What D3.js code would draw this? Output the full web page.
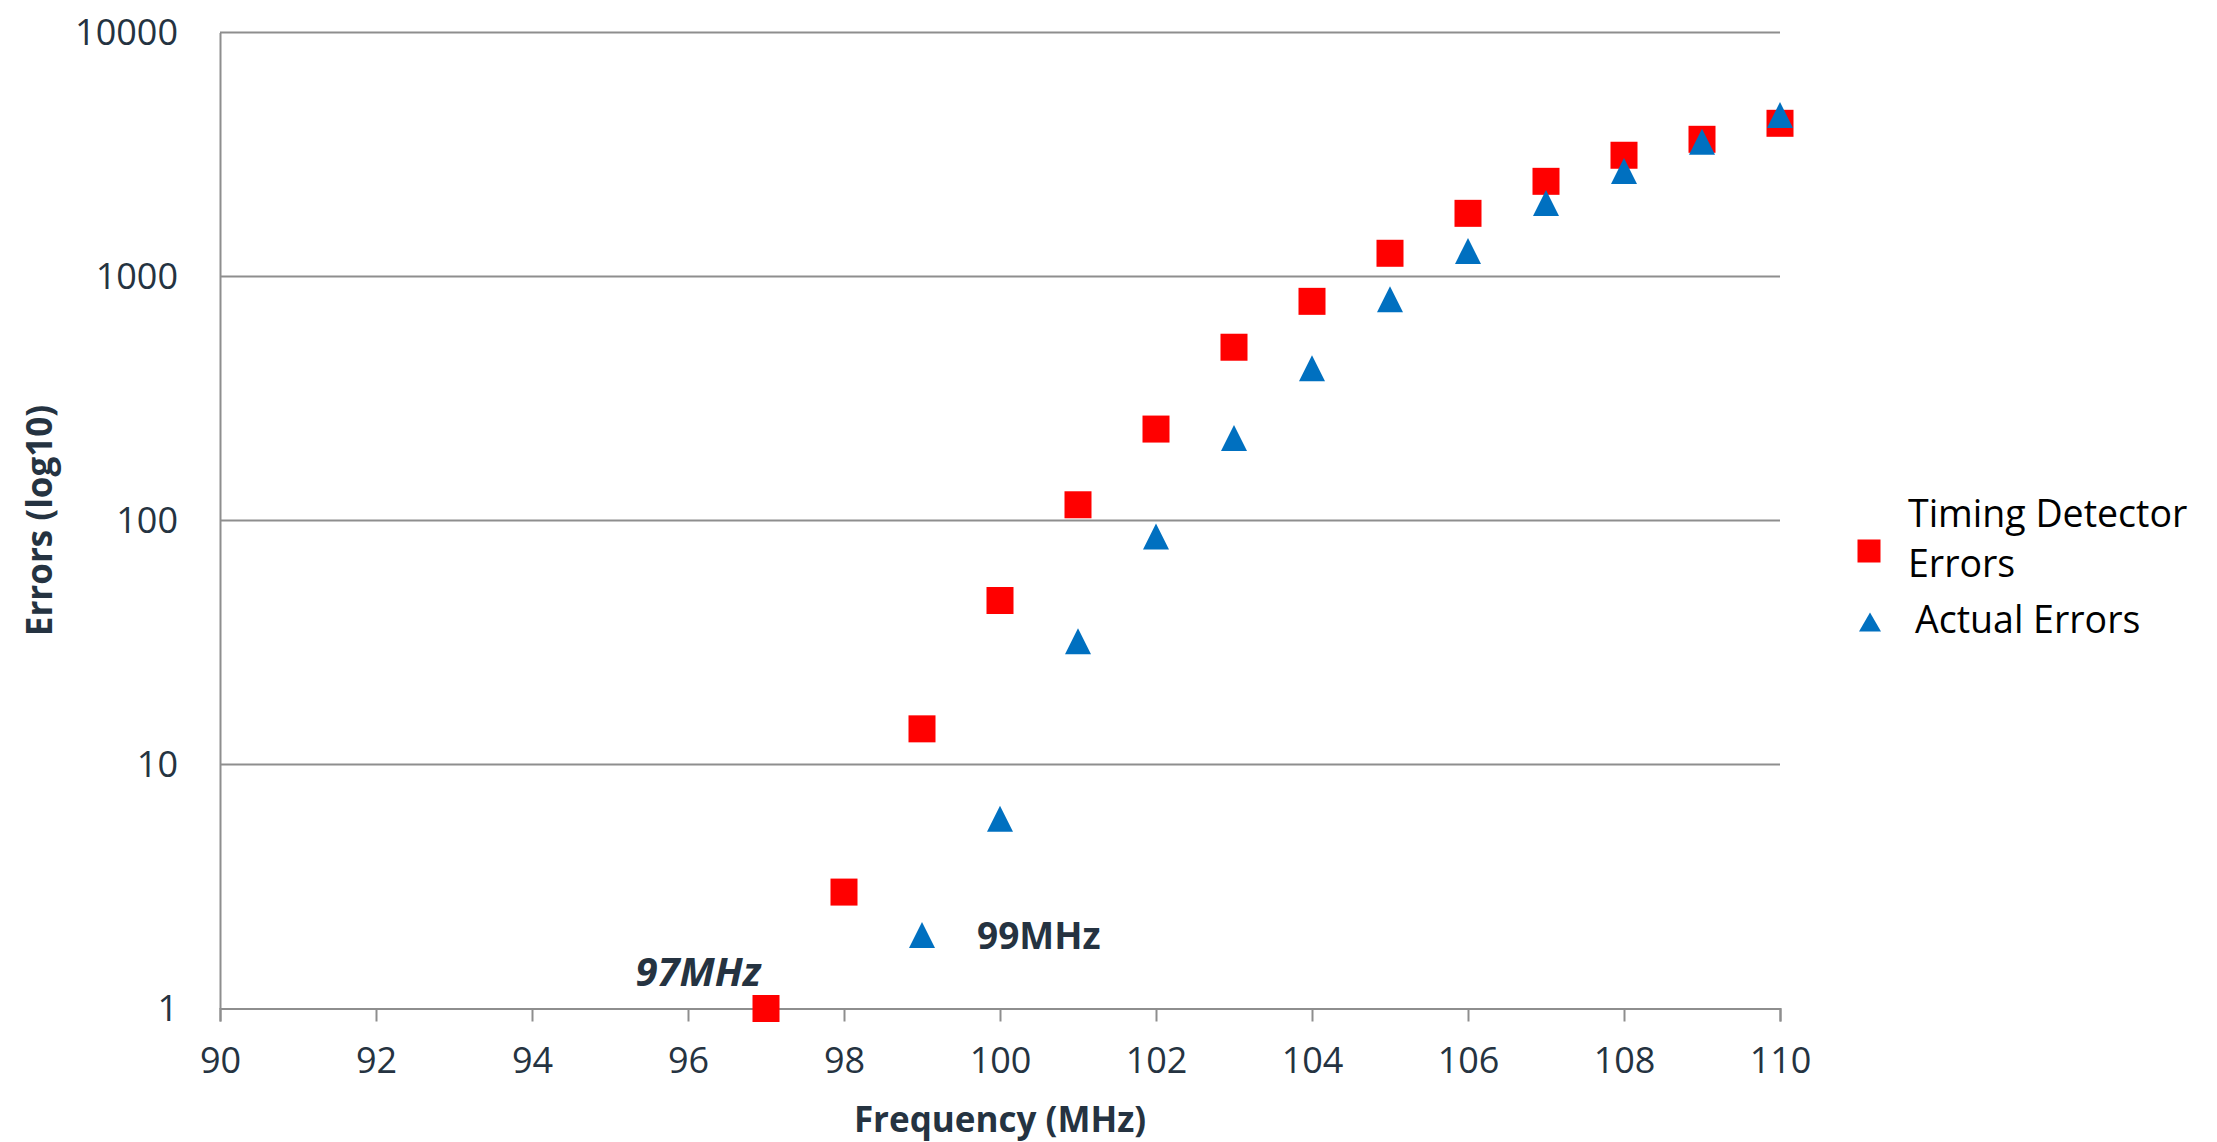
<!DOCTYPE html>
<meta charset="utf-8">
<style>
body { margin: 0; background: #fff; }
svg { display: block; font-family: "Open Sans", sans-serif; }
.tick text { fill: #253341; font-size: 36px; }
.axis path, .axis line { stroke: #8e8e8e; stroke-width: 2px; }
.grid line { stroke: #8e8e8e; stroke-width: 2px; }
.title { fill: #253341; font-size: 35px; font-weight: bold; text-anchor: middle; }
.note { fill: #253341; font-size: 37px; font-weight: bold; }
.legend text { fill: #000; font-size: 37.5px; }
</style>
<svg width="2217" height="1142"></svg>
<script src="https://d3js.org/d3.v7.min.js"></script>
<script>

// frequency in MHz, errors counted at each step
var detectorFreq = [97, 98, 99, 100, 101, 102, 103, 104, 105, 106, 107, 108, 109, 110];
var detectorErrors = [1, 3, 14, 47, 116, 237, 513, 791, 1245, 1815, 2455, 3140, 3650, 4245];
var actualFreq = [99, 100, 101, 102, 103, 104, 105, 106, 107, 108, 109, 110];
var actualErrors = [2, 6, 32, 86, 218, 421, 807, 1273, 2000, 2706, 3570, 4590];
var xTicks = d3.range(90, 111, 2);
var yTicks = [1, 10, 100, 1000, 10000];

var svg = d3.select("svg"),
    plotLeft = 220, plotRight = 1780, plotTop = 32.5, plotBottom = 1008.5;

var x = d3.scaleLinear().domain([90, 110]).range([plotLeft, plotRight]);
var y = d3.scaleLog().domain([1, 10000]).range([plotBottom, plotTop]);

// horizontal gridlines
svg.append("g")
    .attr("class", "grid")
  .selectAll("line")
  .data(yTicks.slice(1))
  .enter().append("line")
    .attr("x1", plotLeft).attr("x2", plotRight)
    .attr("y1", function(d) { return y(d); })
    .attr("y2", function(d) { return y(d); });

svg.append("g")
    .attr("class", "axis")
    .attr("transform", "translate(0," + plotBottom + ")")
    .call(d3.axisBottom(x).tickValues(xTicks).tickSize(13).tickPadding(26).tickFormat(d3.format("d")));

svg.append("g")
    .attr("class", "axis")
    .attr("transform", "translate(" + plotLeft + ",0)")
    .call(d3.axisLeft(y).tickValues(yTicks).tickSize(0).tickPadding(42).tickFormat(d3.format("d")));

svg.selectAll(".axis").attr("font-family", null).attr("font-size", null);

// triangle with its bounding box centred on the point
function tri(w, h) {
  return "M0," + (-h / 2) + "L" + (w / 2) + "," + (h / 2) + "L" + (-w / 2) + "," + (h / 2) + "Z";
}

svg.append("g").selectAll("rect")
  .data(detectorFreq)
  .enter().append("rect")
    .attr("x", function(d) { return x(d) - 13.5; })
    .attr("y", function(d, i) { return y(detectorErrors[i]) - 13.5; })
    .attr("width", 27).attr("height", 27)
    .attr("fill", "#ff0000");

svg.append("g").selectAll("path")
  .data(actualFreq)
  .enter().append("path")
    .attr("d", tri(26, 26))
    .attr("transform", function(d, i) { return "translate(" + x(d) + "," + y(actualErrors[i]) + ")"; })
    .attr("fill", "#0070c0");

// labels on first points
svg.append("text")
    .attr("class", "note")
    .attr("x", x(97) - 5).attr("y", y(1) - 23)
    .attr("text-anchor", "end")
    .style("font-style", "italic")
    .style("font-size", "40px")
    .text("97MHz");

svg.append("text")
    .attr("class", "note")
    .attr("x", x(99) + 55).attr("y", y(2) + 14)
    .text("99MHz");

// axis titles
svg.append("text")
    .attr("class", "title")
    .attr("x", (plotLeft + plotRight) / 2).attr("y", 1132)
    .text("Frequency (MHz)");

svg.append("text")
    .attr("class", "title")
    .attr("transform", "translate(52," + (plotTop + plotBottom) / 2 + ") rotate(-90)")
    .text("Errors (log10)");

// legend
var legend = svg.append("g").attr("class", "legend");
legend.append("rect")
    .attr("x", 1869 - 11.5).attr("y", 551 - 11.5)
    .attr("width", 23).attr("height", 23)
    .attr("fill", "#ff0000");
legend.append("text").attr("x", 1908).attr("y", 527).text("Timing Detector");
legend.append("text").attr("x", 1908).attr("y", 577).text("Errors");
legend.append("path")
    .attr("d", tri(22, 19))
    .attr("transform", "translate(1870,622)")
    .attr("fill", "#0070c0");
legend.append("text").attr("x", 1915).attr("y", 633).text("Actual Errors");

</script>
